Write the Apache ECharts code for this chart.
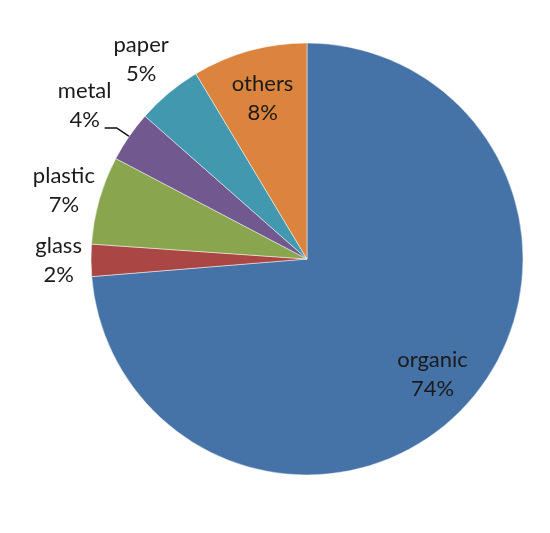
<!DOCTYPE html>
<html>
<head>
<meta charset="utf-8">
<script src="https://cdn.jsdelivr.net/npm/echarts@6/dist/echarts.min.js"></script>
<style>
  html, body { margin: 0; padding: 0; background: #fff; }
  #main { width: 550px; height: 533px; }
</style>
</head>
<body>
<div id="main"></div>
<script>
// slice shares, printed labels as shown
const categories = ["organic", "glass", "plastic", "metal", "paper", "others"];
const shares = [73.7, 2.4, 6.6, 3.8, 4.9, 8.6];
const printedPct = ["74%", "2%", "7%", "4%", "5%", "8%"];
const colors = ["#4572A7", "#AA4643", "#89A54E", "#71588F", "#4198AF", "#DB843D"];

const cx = 307, cy = 259, R = 216;
// label distance from centre, as a fraction of the radius
const labelRadius = { organic: 0.79, glass: 1.15, plastic: 1.17, metal: 1.25, paper: 1.2, others: 0.77 };
const total = shares.reduce((a, b) => a + b, 0);

// middle angle of a slice, radians, clockwise from 12 o'clock
function midAngle(i) {
  let before = 0;
  for (let j = 0; j < i; j++) before += shares[j];
  return (before + shares[i] / 2) / total * Math.PI * 2;
}
function polar(a, r) {
  return [cx + r * Math.sin(a), cy - r * Math.cos(a)];
}

const chart = echarts.init(document.getElementById("main"));

const data = categories.map((name, i) => {
  const item = { name: name, value: shares[i], itemStyle: { color: colors[i] } };
  if (name === "metal") item.labelLine = { show: true };
  return item;
});

chart.setOption({
  animation: false,
  series: [{
    type: "pie",
    center: [cx, cy],
    radius: [0, R],
    startAngle: 90,
    clockwise: true,
    data: data,
    itemStyle: { borderColor: "rgba(255,255,255,0.6)", borderWidth: 0.8 },
    label: {
      show: true,
      formatter: p => p.name + "\n" + printedPct[p.dataIndex],
      fontFamily: "Lato",
      fontSize: 22,
      lineHeight: 29,
      color: "#1a1a1a",
      align: "center",
      overflow: "none"
    },
    labelLine: { show: false, lineStyle: { color: "#111", width: 1.5 } },
    labelLayout: function (p) {
      const i = p.dataIndex;
      const a = midAngle(i);
      const pos = polar(a, labelRadius[categories[i]] * R);
      const out = { x: pos[0], y: pos[1], align: "center", verticalAlign: "middle" };
      if (categories[i] === "metal") {
        const edge = polar(a, R);
        const elbow = polar(a, R * 1.07);
        out.labelLinePoints = [edge, elbow, [pos[0] + 20, elbow[1]]];
      }
      return out;
    }
  }]
});
</script>
</body>
</html>
